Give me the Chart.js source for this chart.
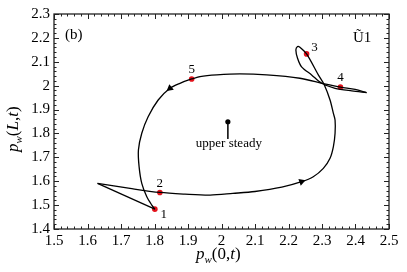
<!DOCTYPE html>
<html>
<head>
<meta charset="utf-8">
<script src="https://cdn.jsdelivr.net/npm/chart.js@4.4.0/dist/chart.umd.min.js"></script>
<style>
body { margin: 0; background: #fff; }
#wrap { width: 407px; height: 272px; }
</style>
</head>
<body>
<div id="wrap"><canvas id="orbit" width="407" height="272"></canvas></div>
<script>
// orbit: x = p_w(0,t), y = p_w(L,t)
// piece 1: left cusp -> 2 -> along the bottom -> up the right side -> small loop -> right tip
const cuspToTipX = [1.630, 1.727, 1.816, 1.891, 1.966, 2.034, 2.100, 2.180, 2.239, 2.274, 2.304, 2.324, 2.334, 2.339, 2.339, 2.334, 2.324, 2.307, 2.289, 2.254, 2.234, 2.227, 2.222, 2.227, 2.239, 2.269, 2.299, 2.339, 2.389, 2.433];
const cuspToTipY = [1.591, 1.570, 1.553, 1.546, 1.542, 1.549, 1.557, 1.575, 1.598, 1.619, 1.654, 1.696, 1.745, 1.801, 1.856, 1.884, 1.940, 2.003, 2.045, 2.133, 2.161, 2.164, 2.149, 2.115, 2.079, 2.045, 2.010, 1.989, 1.978, 1.971];
// piece 2: right tip -> 4 -> back left along the top -> 5 -> big arc down to 1
const tipToOneX = [2.433, 2.399, 2.355, 2.304, 2.234, 2.135, 2.055, 1.986, 1.936, 1.911, 1.876, 1.846, 1.811, 1.781, 1.762, 1.752, 1.754, 1.762, 1.777, 1.792, 1.801];
const tipToOneY = [1.971, 1.984, 1.994, 2.009, 2.031, 2.045, 2.049, 2.045, 2.038, 2.028, 2.010, 1.989, 1.940, 1.870, 1.801, 1.731, 1.661, 1.591, 1.535, 1.500, 1.483];
// piece 3: straight run from 1 back to the left cusp
const oneToCuspX = [1.801, 1.630];
const oneToCuspY = [1.483, 1.591];

// numbered instants
const markerNames = ['1', '2', '3', '4', '5'];
const markerX = [1.801, 1.816, 2.254, 2.355, 1.911];
const markerY = [1.483, 1.553, 2.133, 1.994, 2.028];

// direction arrows on the orbit
const arrowX = [2.239, 1.846];
const arrowY = [1.598, 1.989];

// upper steady state
const steadyX = [2.019];
const steadyY = [1.849];
const steadyStemY = 1.777;

const xTicks = ['1.5', '1.6', '1.7', '1.8', '1.9', '2', '2.1', '2.2', '2.3', '2.4', '2.5'];
const yTicks = ['1.4', '1.5', '1.6', '1.7', '1.8', '1.9', '2', '2.1', '2.2', '2.3'];

function pts(xs, ys) {
    return xs.map((x, i) => ({ x: x, y: ys[i] }));
}

const serif = '"Liberation Serif", "DejaVu Serif", serif';

// draw text made of pieces (italic / subscript)
function drawRich(ctx, parts, x, y) {
    let cx = x;
    parts.forEach(p => {
        ctx.font = (p.italic ? 'italic ' : '') + p.size + 'px ' + serif;
        ctx.fillText(p.t, cx, y + (p.dy || 0));
        cx += ctx.measureText(p.t).width;
    });
}

// boxed frame with inward ticks on all four sides
const frameTicks = {
    id: 'frameTicks',
    afterDatasetsDraw(chart) {
        const { ctx, chartArea: a, scales } = chart;
        const x = scales.x, y = scales.y;
        ctx.save();
        ctx.strokeStyle = '#222';
        ctx.lineWidth = 1;
        ctx.beginPath();
        const nx = Math.round((x.max - x.min) / 0.02);
        for (let i = 0; i <= nx; i++) {
            const px = Math.round(x.getPixelForValue(x.min + i * 0.02)) + 0.5;
            const len = i % 5 === 0 ? 5 : 2.5;
            ctx.moveTo(px, a.bottom); ctx.lineTo(px, a.bottom - len);
            ctx.moveTo(px, a.top); ctx.lineTo(px, a.top + len);
        }
        const ny = Math.round((y.max - y.min) / 0.02);
        for (let i = 0; i <= ny; i++) {
            const py = Math.round(y.getPixelForValue(y.min + i * 0.02)) + 0.5;
            const len = i % 5 === 0 ? 5 : 2.5;
            ctx.moveTo(a.left, py); ctx.lineTo(a.left + len, py);
            ctx.moveTo(a.right, py); ctx.lineTo(a.right - len, py);
        }
        ctx.stroke();
        ctx.lineWidth = 1.3;
        ctx.strokeRect(a.left, a.top, a.right - a.left, a.bottom - a.top);
        ctx.restore();
    }
};

// numbers, captions and axis titles
const annotations = {
    id: 'annotations',
    afterDraw(chart) {
        const { ctx, chartArea: a, scales } = chart;
        const x = scales.x, y = scales.y;
        const offsets = [[9, 5], [0, -9], [8, -6], [0, -10], [0, -9]];
        ctx.save();
        ctx.fillStyle = '#000';
        ctx.textAlign = 'center';
        ctx.textBaseline = 'middle';
        ctx.font = '13px ' + serif;
        markerNames.forEach((n, i) => {
            ctx.fillText(n,
                x.getPixelForValue(markerX[i]) + offsets[i][0],
                y.getPixelForValue(markerY[i]) + offsets[i][1]);
        });
        ctx.textBaseline = 'alphabetic';
        ctx.fillText('upper steady', x.getPixelForValue(steadyX[0]) + 1, y.getPixelForValue(steadyY[0]) + 25);

        ctx.textAlign = 'left';
        ctx.font = '15px ' + serif;
        ctx.fillText('(b)', a.left + 11, a.top + 25);
        ctx.fillText('\u0168' + '1', a.right - 36, a.top + 28);

        // x title p_w(0,t)
        drawRich(ctx, [
            { t: 'p', italic: true, size: 17 },
            { t: 'w', italic: true, size: 11, dy: 4 },
            { t: '(0,', size: 17 },
            { t: 't', italic: true, size: 17 },
            { t: ')', size: 17 }
        ], 196, 259);

        // y title p_w(L,t)
        ctx.translate(18, 152);
        ctx.rotate(-Math.PI / 2);
        drawRich(ctx, [
            { t: 'p', italic: true, size: 17 },
            { t: 'w', italic: true, size: 11, dy: 4 },
            { t: '(', size: 17 },
            { t: 'L', italic: true, size: 17 },
            { t: ',', size: 17 },
            { t: 't', italic: true, size: 17 },
            { t: ')', size: 17 }
        ], 0, 0);
        ctx.restore();
    }
};

function orbitPiece(xs, ys, tension) {
    return {
        data: pts(xs, ys),
        showLine: true,
        borderColor: '#000',
        borderWidth: 1.3,
        pointRadius: 0,
        tension: tension
    };
}

const ctx = document.getElementById('orbit').getContext('2d');
new Chart(ctx, {
    type: 'scatter',
    data: {
        datasets: [
            orbitPiece(cuspToTipX, cuspToTipY, 0.3),
            orbitPiece(tipToOneX, tipToOneY, 0.3),
            orbitPiece(oneToCuspX, oneToCuspY, 0),
            {
                // stem from the label up to the steady point
                data: pts([steadyX[0], steadyX[0]], [steadyY[0], steadyStemY]),
                showLine: true,
                borderColor: '#000',
                borderWidth: 0.8,
                pointRadius: 0
            },
            {
                data: pts(steadyX, steadyY),
                pointRadius: 2.6,
                backgroundColor: '#000',
                borderWidth: 0
            },
            {
                data: pts(arrowX, arrowY),
                pointStyle: 'triangle',
                rotation: [71, 232],
                pointRadius: 4.2,
                backgroundColor: '#000',
                borderWidth: 0
            },
            {
                data: pts(markerX, markerY),
                pointRadius: 2.8,
                backgroundColor: '#e3121b',
                borderWidth: 0
            }
        ]
    },
    options: {
        responsive: false,
        animation: false,
        layout: { padding: { top: 14, right: 18, left: 0, bottom: 0 } },
        plugins: {
            legend: { display: false },
            tooltip: { enabled: false }
        },
        scales: {
            x: {
                type: 'linear',
                min: 1.5,
                max: 2.5,
                grid: { display: false, drawTicks: false },
                border: { display: false },
                ticks: {
                    stepSize: 0.1,
                    autoSkip: false,
                    maxRotation: 0,
                    padding: 3,
                    color: '#000',
                    font: { family: serif, size: 15 },
                    callback: (v, i) => xTicks[i]
                },
                afterFit: s => { s.height = 43; }
            },
            y: {
                type: 'linear',
                min: 1.4,
                max: 2.3,
                grid: { display: false, drawTicks: false },
                border: { display: false },
                ticks: {
                    stepSize: 0.1,
                    autoSkip: false,
                    padding: 4,
                    color: '#000',
                    font: { family: serif, size: 15 },
                    callback: (v, i) => yTicks[i]
                },
                afterFit: s => { s.width = 54; }
            }
        }
    },
    plugins: [frameTicks, annotations]
});
</script>
</body>
</html>
